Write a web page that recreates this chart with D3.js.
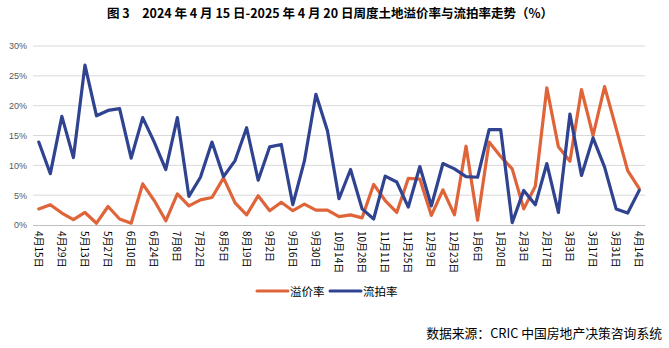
<!DOCTYPE html>
<html>
<head>
<meta charset="utf-8">
<script src="https://cdn.jsdelivr.net/npm/d3@7/dist/d3.min.js"></script>
<style>
  html, body { margin: 0; padding: 0; background: #fff; }
  svg { display: block; }
</style>
</head>
<body>
<svg id="chart" width="669" height="348"></svg>
<script>
// Weekly dates, 2024-04-15 .. 2025-04-14 (labels shown every other week)
const weeks = [
  "4月15日","4月22日","4月29日","5月6日","5月13日","5月20日","5月27日","6月3日","6月10日","6月17日",
  "6月24日","7月1日","7月8日","7月15日","7月22日","7月29日","8月5日","8月12日","8月19日","8月26日",
  "9月2日","9月9日","9月16日","9月23日","9月30日","10月7日","10月14日","10月21日","10月28日","11月4日",
  "11月11日","11月18日","11月25日","12月2日","12月9日","12月16日","12月23日","12月30日","1月6日","1月13日",
  "1月20日","1月27日","2月3日","2月10日","2月17日","2月24日","3月3日","3月10日","3月17日","3月24日",
  "3月31日","4月7日","4月14日"
];

// 溢价率 (%)
const premiumRate = [
  2.7, 3.4, 2.0, 0.9, 2.1, 0.3, 3.1, 1.0, 0.3, 6.9,
  4.1, 0.7, 5.2, 3.2, 4.2, 4.6, 7.9, 3.7, 1.7, 4.9,
  2.4, 3.8, 2.4, 3.5, 2.5, 2.5, 1.4, 1.7, 1.2, 6.8,
  4.1, 2.1, 7.8, 7.7, 1.6, 5.9, 1.7, 13.2, 0.8, 13.9,
  11.5, 9.4, 2.7, 6.5, 23.0, 13.1, 10.7, 22.7, 15.0, 23.2,
  16.2, 9.1, 6.1
];

// 流拍率 (%)
const failRate = [
  13.9, 8.6, 18.2, 11.3, 26.8, 18.3, 19.2, 19.5, 11.2, 18.0,
  13.9, 9.3, 18.0, 4.8, 8.0, 13.9, 8.1, 10.8, 16.3, 7.5,
  13.1, 13.5, 3.4, 10.7, 21.9, 15.8, 4.4, 9.3, 2.7, 1.0,
  8.2, 7.2, 3.0, 9.8, 3.2, 10.3, 9.4, 8.1, 8.0, 16.0,
  16.0, 0.4, 5.8, 3.4, 10.3, 2.1, 18.6, 8.3, 14.6, 9.7,
  2.7, 2.0, 5.8
];

const yTicks = [0, 5, 10, 15, 20, 25, 30];

const seriesInfo = [
  { name: "溢价率", values: premiumRate, color: "#E0643A" },
  { name: "流拍率", values: failRate, color: "#2F4391" }
];

const svg = d3.select("#chart");
const plotLeft = 33, plotRight = 645, plotTop = 46, plotBottom = 225;

const x = d3.scalePoint().domain(weeks).range([plotLeft, plotRight]).padding(0.5);
const y = d3.scaleLinear().domain([0, 30]).range([plotBottom, plotTop]);

// Title
svg.append("text")
  .attr("x", 330).attr("y", 18)
  .attr("text-anchor", "middle")
  .attr("font-family", "'Noto Sans CJK SC', sans-serif")
  .attr("font-weight", "bold")
  .attr("font-size", 12.5)
  .attr("fill", "#000")
  .text("图 3　2024 年 4 月 15 日-2025 年 4 月 20 日周度土地溢价率与流拍率走势（%）");

// Horizontal gridlines
svg.append("g")
  .selectAll("line")
  .data(yTicks.filter(d => d > 0))
  .join("line")
  .attr("x1", plotLeft).attr("x2", plotRight)
  .attr("y1", d => y(d)).attr("y2", d => y(d))
  .attr("stroke", "#D9D9D9").attr("stroke-width", 1);

// Y axis labels
const yAxis = d3.axisLeft(y).tickValues(yTicks).tickFormat(d => d + "%").tickSize(0).tickPadding(6);
const gy = svg.append("g").attr("transform", `translate(${plotLeft},0)`).call(yAxis);
gy.select(".domain").remove();
gy.selectAll("text")
  .attr("font-family", "'Liberation Sans', Arial, sans-serif")
  .attr("font-size", 9)
  .attr("fill", "#595959");

// X axis (every other week labelled)
const xAxis = d3.axisBottom(x)
  .tickValues(weeks.filter((d, i) => i % 2 === 0))
  .tickSize(0);
const gx = svg.append("g").attr("transform", `translate(0,${plotBottom})`).call(xAxis);
gx.select(".domain").attr("stroke", "#BFBFBF").attr("d", `M${plotLeft},0.5H${plotRight}`);
gx.selectAll("text")
  .attr("font-family", "'Noto Sans CJK SC', sans-serif")
  .attr("font-size", 10)
  .attr("fill", "#000")
  .attr("text-anchor", "start")
  .attr("dominant-baseline", "central")
  .attr("dy", null)
  .attr("y", 0)
  .attr("transform", "translate(0,6) rotate(90)");

// Lines
const line = d3.line()
  .x((d, i) => x(weeks[i]))
  .y(d => y(d));

svg.append("g")
  .selectAll("path")
  .data(seriesInfo)
  .join("path")
  .attr("d", d => line(d.values))
  .attr("fill", "none")
  .attr("stroke", d => d.color)
  .attr("stroke-width", 3.2)
  .attr("stroke-linejoin", "round")
  .attr("stroke-linecap", "round");

// Legend
const legend = svg.append("g").attr("transform", "translate(257,291)");
const legendItems = legend.selectAll("g")
  .data(seriesInfo)
  .join("g")
  .attr("transform", (d, i) => `translate(${i * 73},0)`);
legendItems.append("line")
  .attr("x1", 0).attr("x2", 31)
  .attr("y1", 0).attr("y2", 0)
  .attr("stroke", d => d.color)
  .attr("stroke-width", 3)
  .attr("stroke-linecap", "round");
legendItems.append("text")
  .attr("x", 33).attr("y", 0)
  .attr("dominant-baseline", "central")
  .attr("font-family", "'Noto Sans CJK SC', sans-serif")
  .attr("font-size", 11.5)
  .attr("fill", "#000")
  .text(d => d.name);

// Source note
svg.append("text")
  .attr("x", 662).attr("y", 332)
  .attr("text-anchor", "end")
  .attr("dominant-baseline", "central")
  .attr("font-family", "'Noto Sans CJK SC', sans-serif")
  .attr("font-size", 12.8)
  .attr("fill", "#000")
  .text("数据来源：CRIC 中国房地产决策咨询系统");
</script>
</body>
</html>
